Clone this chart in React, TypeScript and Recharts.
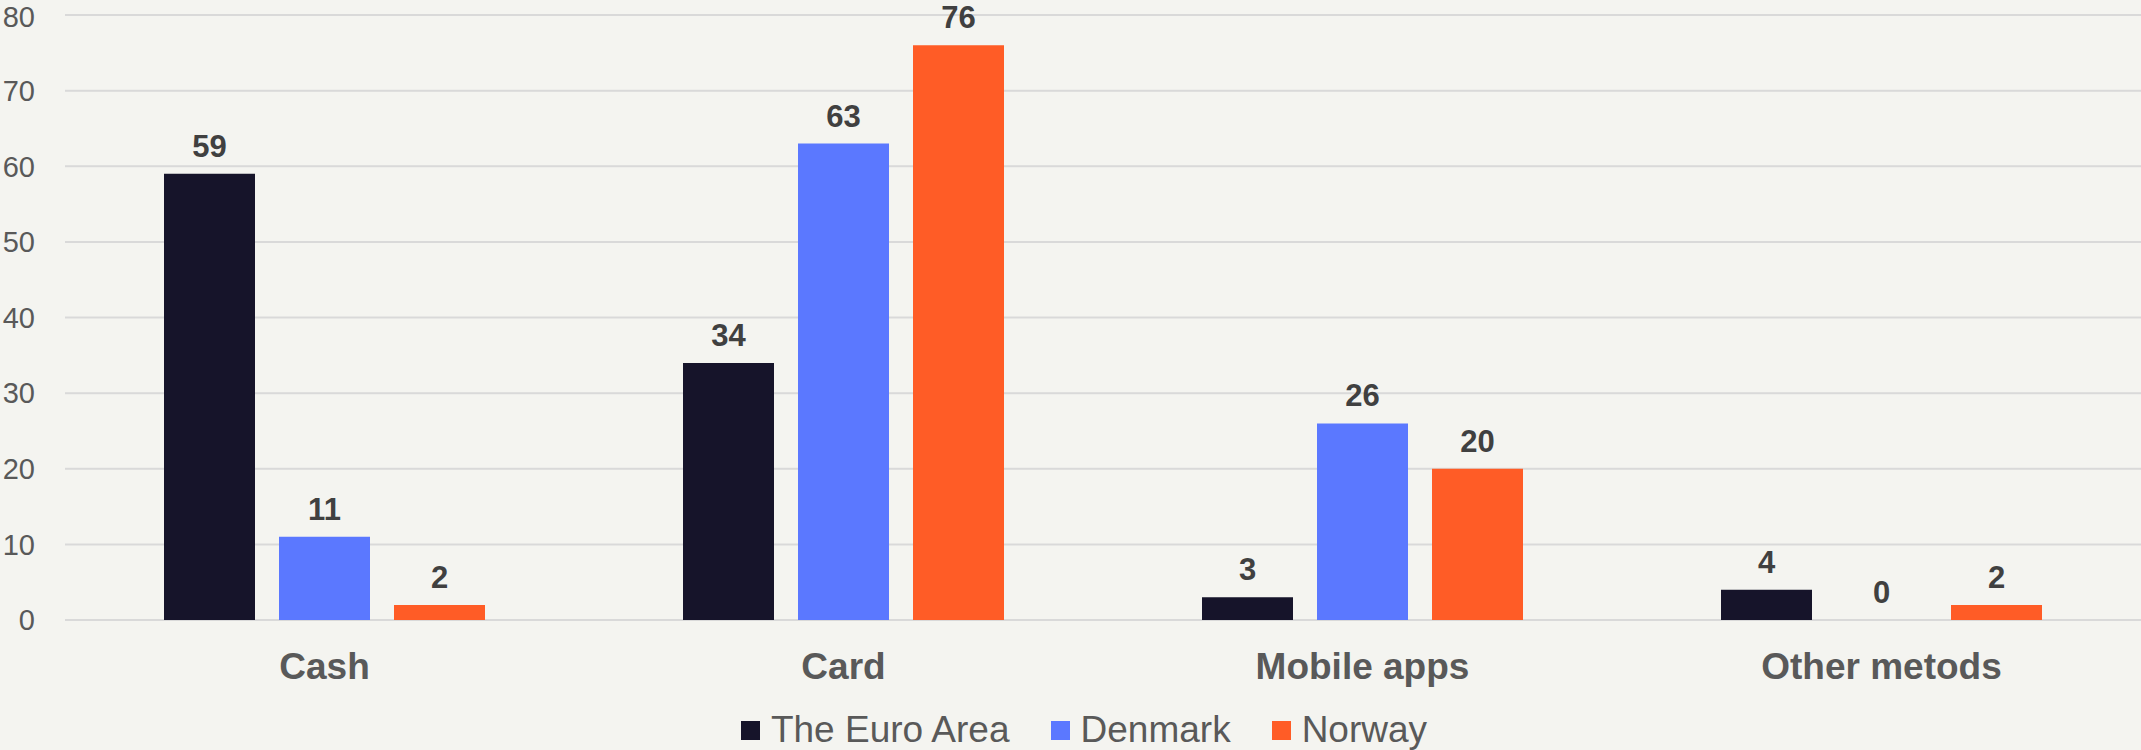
import React from "react";
import { BarChart, Bar, XAxis, YAxis, CartesianGrid, Legend, LabelList } from "recharts";

const categories = ["Cash", "Card", "Mobile apps", "Other metods"];
const euroArea = [59, 34, 3, 4];
const denmark = [11, 63, 26, 0];
const norway = [2, 76, 20, 2];
const yTicks = [0, 10, 20, 30, 40, 50, 60, 70, 80];

const SERIES = [
  { key: "euro", name: "The Euro Area", color: "#16142a" },
  { key: "denmark", name: "Denmark", color: "#5b78ff" },
  { key: "norway", name: "Norway", color: "#ff5c26" },
];

const chartData = categories.map((c, i) => ({
  category: c,
  euro: euroArea[i],
  denmark: denmark[i],
  norway: norway[i],
}));

// zero-valued bars still need their "0" label, so give them a hairline height
const zeroSafe = (value: number) => (value === 0 ? 0.01 : 0);

const CategoryTick = ({ x, y, payload }: { x?: number; y?: number; payload?: { value: string } }) => (
  <text x={x} y={y ?? 0} dy={51} textAnchor="middle" fontSize={37} fontWeight={700} fill="#595959">
    {payload?.value}
  </text>
);

const LegendRow = () => (
  <div
    style={{
      display: "flex",
      justifyContent: "center",
      alignItems: "center",
      boxSizing: "border-box",
      width: "100%",
      height: 50,
      paddingTop: 10,
      paddingLeft: 27,
      lineHeight: "40px",
      fontSize: 37,
      color: "#595959",
    }}
  >
    {SERIES.map((s, i) => (
      <div key={s.key} style={{ display: "flex", alignItems: "center", marginLeft: i === 0 ? 0 : 41 }}>
        <div style={{ width: 19, height: 19, background: s.color, marginRight: 11 }} />
        <span>{s.name}</span>
      </div>
    ))}
  </div>
);

export default function App() {
  return (
    <div
      style={{
        position: "absolute",
        left: 0,
        top: 0,
        width: 2141,
        height: 750,
        background: "#f4f4f0",
        fontFamily: "'Liberation Sans', Arial, sans-serif",
      }}
    >
      <BarChart
        width={2141}
        height={750}
        data={chartData}
        margin={{ top: 15, right: 0, bottom: 0, left: 0 }}
        barGap={24}
      >
        <CartesianGrid vertical={false} stroke="#d9d9d9" strokeWidth={2} />
        <XAxis
          dataKey="category"
          axisLine={false}
          tickLine={false}
          height={80}
          tick={<CategoryTick />}
          interval={0}
        />
        <YAxis
          domain={[0, 80]}
          ticks={yTicks}
          axisLine={false}
          tickLine={false}
          width={65}
          tickMargin={24}
          tick={{ fontSize: 29, fill: "#595959" }}
        />
        <Legend verticalAlign="bottom" content={<LegendRow />} />
        {SERIES.map((s) => (
          <Bar
            key={s.key}
            dataKey={s.key}
            name={s.name}
            fill={s.color}
            barSize={91}
            minPointSize={zeroSafe}
            isAnimationActive={false}
          >
            <LabelList
              dataKey={s.key}
              position="top"
              offset={17}
              style={{ fontSize: 31, fontWeight: 700, fill: "#404040" }}
            />
          </Bar>
        ))}
      </BarChart>
    </div>
  );
}
